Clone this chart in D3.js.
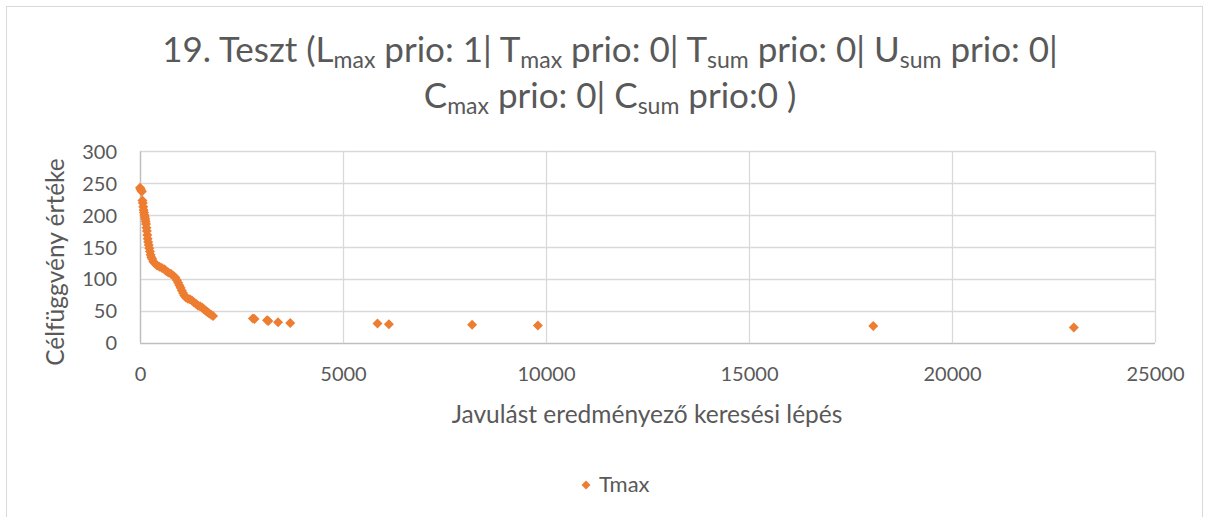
<!DOCTYPE html>
<html>
<head>
<meta charset="utf-8">
<script src="https://cdn.jsdelivr.net/npm/d3@7/dist/d3.min.js"></script>
<style>
  html, body { margin: 0; padding: 0; background: #fff; }
  svg { display: block; }
  text { font-family: Lato, "Open Sans", "Noto Sans", sans-serif; fill: #595959; }
</style>
</head>
<body>
<svg id="chart" width="1210" height="517"></svg>
<script>
// Improvement steps of the search and the objective value reached at each step
const steps = [
  0, 15, 30, 45, 60, 70, 80, 90, 100, 110, 120, 130, 140, 150, 160, 170, 180, 190,
  200, 215, 230, 245, 260, 280, 300, 330, 370, 420, 480, 540, 600, 650, 700, 760,
  820, 870, 910, 940, 970, 1000, 1030, 1060, 1090, 1130, 1180, 1230, 1280, 1330,
  1380, 1430, 1480, 1530, 1580, 1620, 1660, 1700, 1750, 1800,
  2780, 2820, 3130, 3160, 3400, 3700, 5850, 6130, 8180, 9800, 18060, 23000
];
const values = [
  243, 241, 239, 237, 223, 219, 213, 208, 204, 200, 197, 194, 190, 186, 180, 175, 169, 163,
  158, 153, 148, 143, 138, 134, 131, 127, 124, 121, 119, 117, 115, 112, 110, 108,
  105, 102, 98, 94, 90, 86, 82, 78, 74, 71, 69, 68, 66, 63,
  61, 58, 57, 55, 52, 50, 48, 46, 44, 42,
  38, 37, 35, 34, 32, 31, 30, 29, 28, 27, 26, 24
];
const seriesName = "Tmax";
const xTicks = [0, 5000, 10000, 15000, 20000, 25000];
const yTicks = [0, 50, 100, 150, 200, 250, 300];
const xTitle = "Javulást eredményező keresési lépés";
const yTitle = "Célfüggvény értéke";
// Title pieces: [text, isSubscript]
const titleLine1 = [["19. Teszt (L", false], ["max", true], [" prio: 1| T", false], ["max", true],
  [" prio: 0| T", false], ["sum", true], [" prio: 0| U", false], ["sum", true], [" prio: 0|", false]];
const titleLine2 = [["C", false], ["max", true], [" prio: 0| C", false], ["sum", true], [" prio:0 )", false]];

const svg = d3.select("#chart");
const orange = "#ED7D31";
const grid = "#d9d9d9";

// Chart frame
svg.append("rect")
  .attr("x", 6.5).attr("y", 6.5).attr("width", 1196).attr("height", 520)
  .attr("fill", "#fff").attr("stroke", grid).attr("stroke-width", 1);

const x = d3.scaleLinear().domain([0, 25000]).range([140, 1155]);
const y = d3.scaleLinear().domain([0, 300]).range([342.7, 151.3]);

// Gridlines
const gridG = svg.append("g");
gridG.selectAll("line.h").data(yTicks.filter(d => d > 0)).join("line")
  .attr("x1", x(0)).attr("x2", x(25000))
  .attr("y1", d => Math.round(y(d)) + 0.5).attr("y2", d => Math.round(y(d)) + 0.5)
  .attr("stroke", grid).attr("stroke-width", 1.3);
gridG.selectAll("line.v").data(xTicks.filter(d => d > 0)).join("line")
  .attr("y1", y(0)).attr("y2", y(300))
  .attr("x1", d => Math.round(x(d)) + 0.5).attr("x2", d => Math.round(x(d)) + 0.5)
  .attr("stroke", grid).attr("stroke-width", 1.3);

// Axis lines
svg.append("line")
  .attr("x1", x(0)).attr("x2", x(25000))
  .attr("y1", Math.round(y(0)) + 0.5).attr("y2", Math.round(y(0)) + 0.5)
  .attr("stroke", "#bfbfbf").attr("stroke-width", 1.5);
svg.append("line")
  .attr("x1", Math.round(x(0)) + 0.5).attr("x2", Math.round(x(0)) + 0.5)
  .attr("y1", y(0)).attr("y2", y(300))
  .attr("stroke", "#bfbfbf").attr("stroke-width", 1.5);

// Axes (labels only, no tick marks or domain path)
const xAxis = svg.append("g")
  .attr("transform", `translate(0,${y(0)})`)
  .call(d3.axisBottom(x).tickValues(xTicks).tickFormat(d3.format("d")).tickSize(0).tickPadding(24));
const yAxis = svg.append("g")
  .attr("transform", `translate(${x(0)},0)`)
  .call(d3.axisLeft(y).tickValues(yTicks).tickFormat(d3.format("d")).tickSize(0).tickPadding(23));
[xAxis, yAxis].forEach(g => {
  g.select(".domain").remove();
  g.selectAll("text").attr("font-size", 20).attr("fill", "#595959")
    .attr("font-family", "Lato, 'Open Sans', sans-serif");
});
yAxis.selectAll("text").attr("dy", "0.35em");

// Axis titles
svg.append("text")
  .attr("x", 647).attr("y", 423)
  .attr("text-anchor", "middle").attr("font-size", 24.5)
  .text(xTitle);
svg.append("text")
  .attr("transform", `translate(64,262) rotate(-90)`)
  .attr("text-anchor", "middle").attr("font-size", 24.5)
  .text(yTitle);

// Title with subscripts
function titleLine(parts, yPos) {
  const t = svg.append("text")
    .attr("x", 610).attr("y", yPos)
    .attr("text-anchor", "middle").attr("font-size", 35);
  let sub = false;
  parts.forEach(([s, isSub]) => {
    const ts = t.append("tspan").text(s);
    if (isSub && !sub) { ts.attr("font-size", 23).attr("dy", 6); sub = true; }
    else if (!isSub && sub) { ts.attr("dy", -6); sub = false; }
  });
}
titleLine(titleLine1, 62);
titleLine(titleLine2, 108);

// Markers: rotated squares
const diamond = d3.symbol().type(d3.symbolSquare).size(50);
const pts = steps.map((s, i) => ({ s, v: values[i] }));
svg.append("g").selectAll("path").data(pts).join("path")
  .attr("d", diamond)
  .attr("transform", d => `translate(${x(d.s)},${y(d.v)}) rotate(45)`)
  .attr("fill", orange);

// Legend
svg.append("path")
  .attr("d", d3.symbol().type(d3.symbolSquare).size(40))
  .attr("transform", "translate(586,485) rotate(45)")
  .attr("fill", orange);
svg.append("text")
  .attr("x", 599).attr("y", 492)
  .attr("font-size", 22)
  .text(seriesName);
</script>
</body>
</html>
